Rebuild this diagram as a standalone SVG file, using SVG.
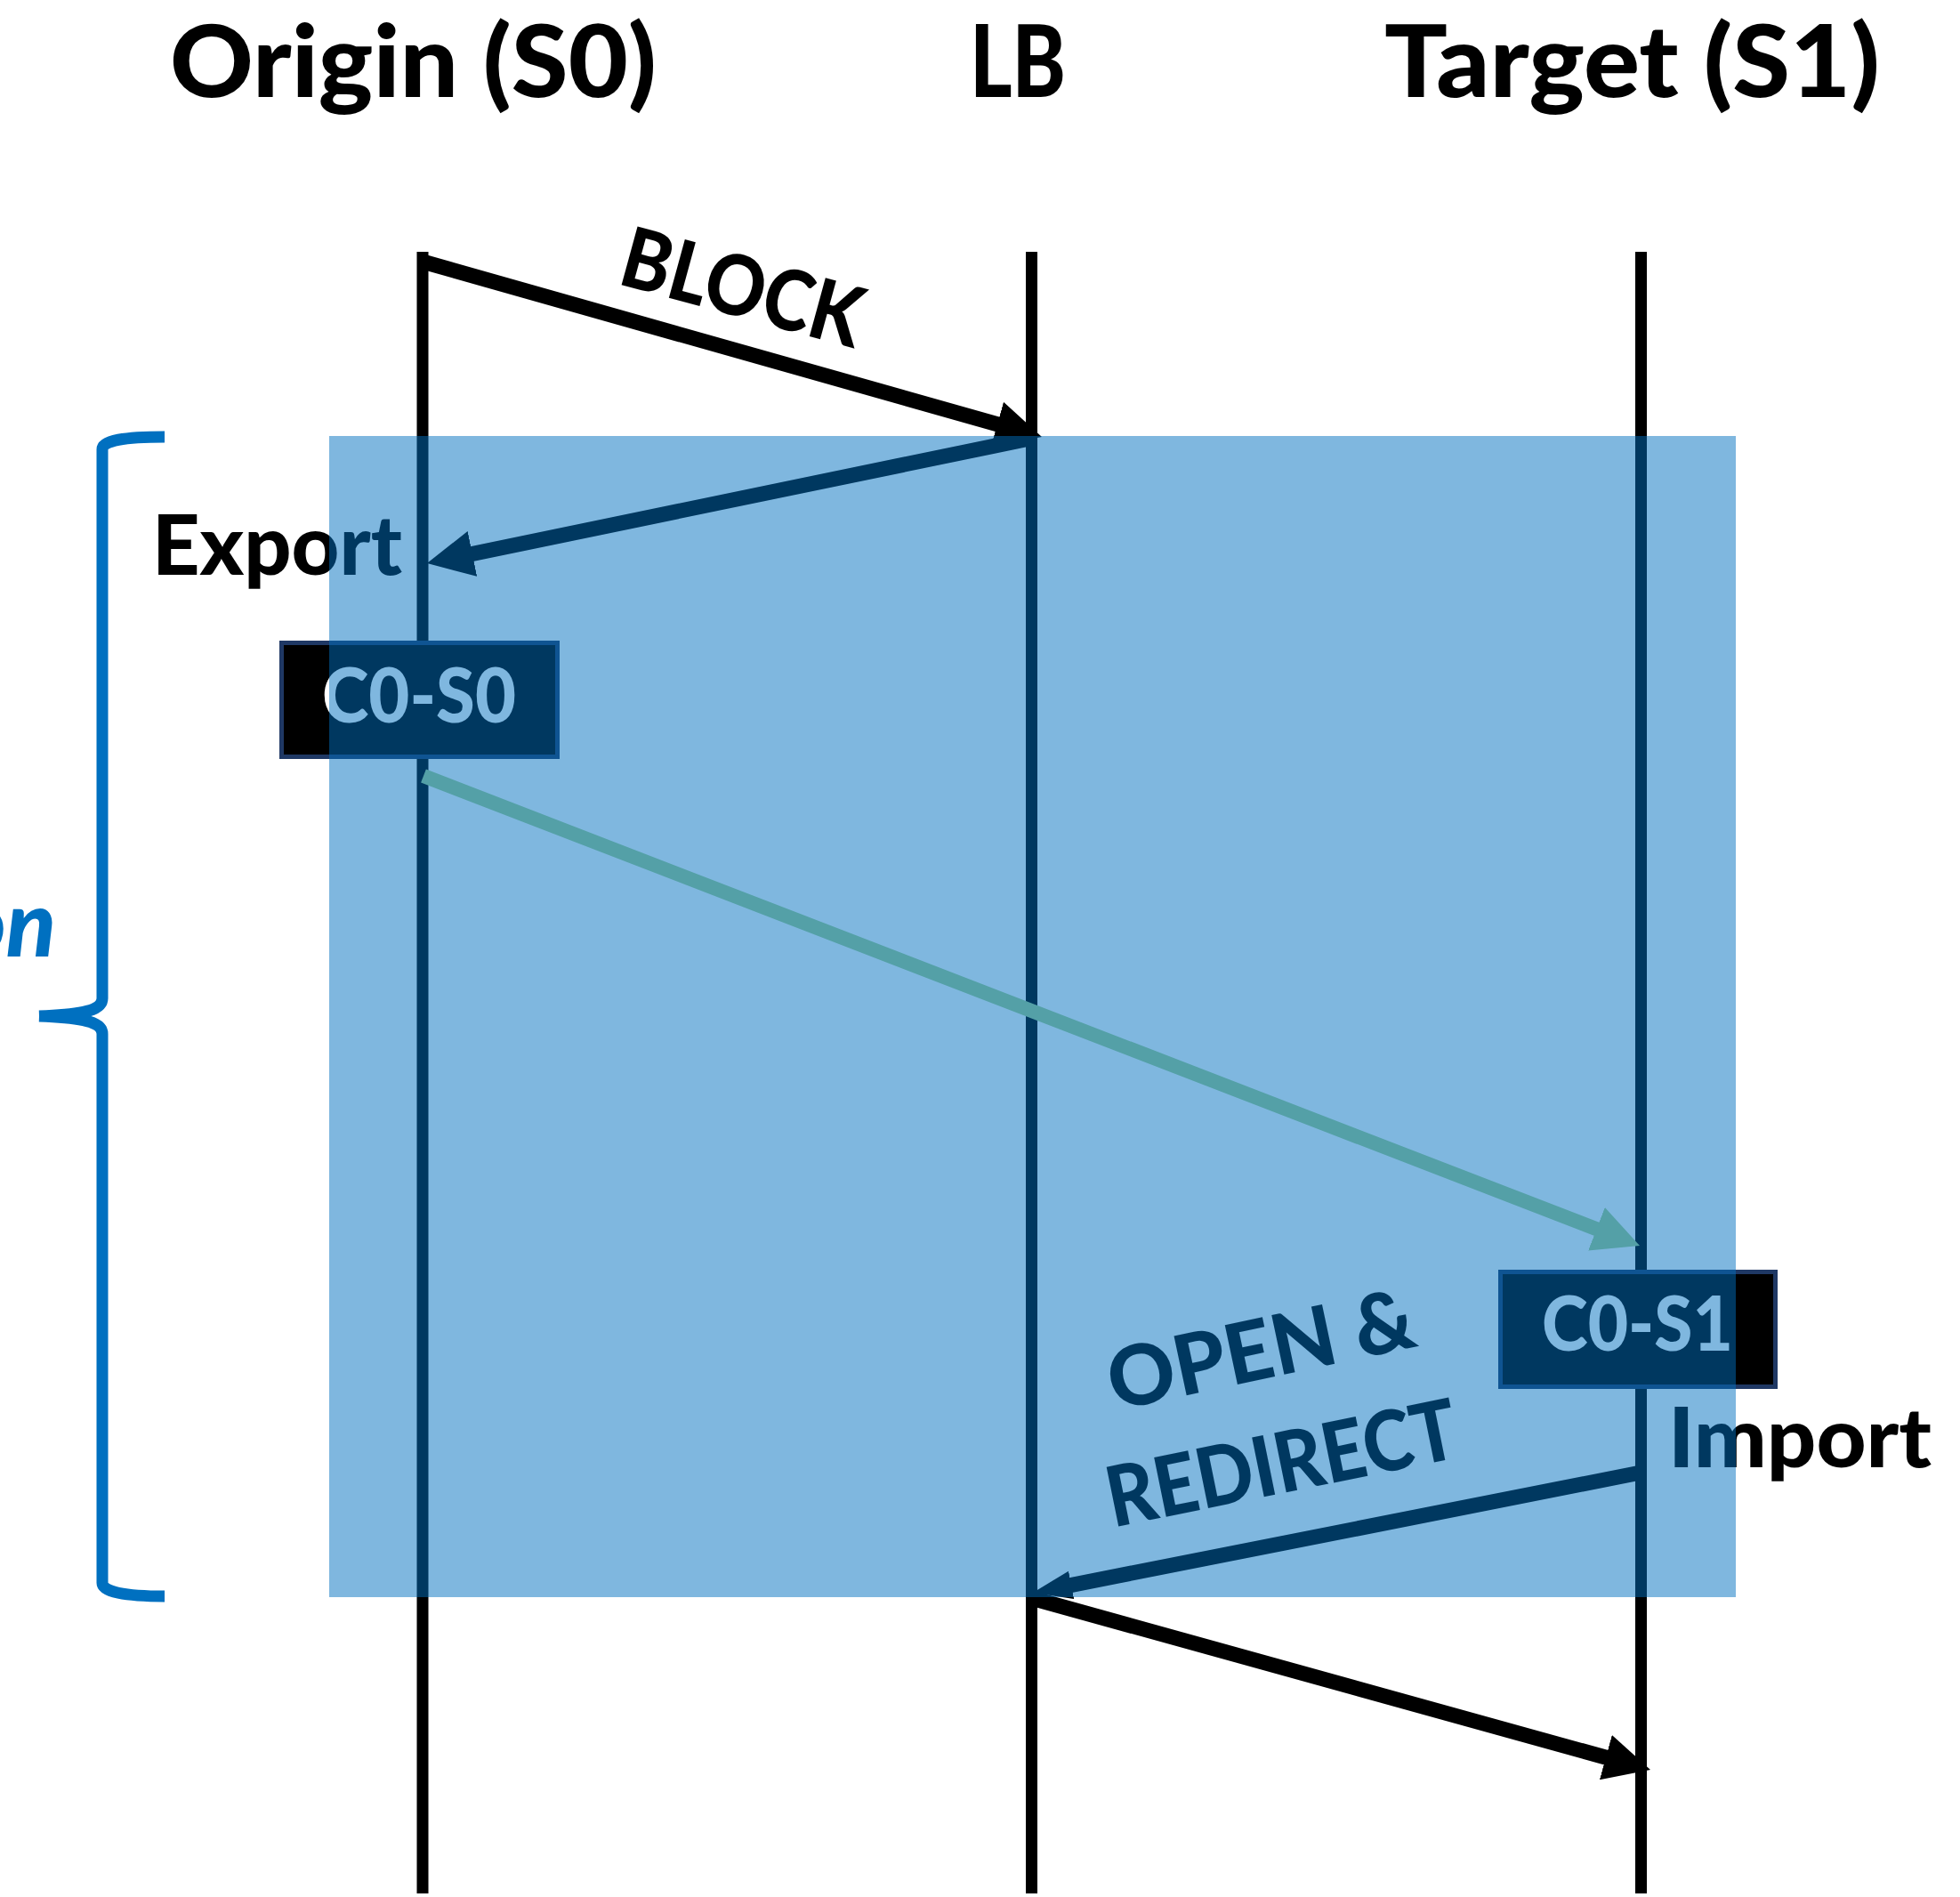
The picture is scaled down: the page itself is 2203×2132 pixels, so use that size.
<svg xmlns="http://www.w3.org/2000/svg" width="2203" height="2132" viewBox="0 0 2203 2132">
  <defs>
    <style>
      .lifeline { stroke: #000; stroke-width: 13; fill: none; }
      .msg { stroke: #000; stroke-width: 17; fill: none; }
      .msg-teal { stroke: #A9D18E; stroke-width: 16; fill: none; }
      .t { font-family: Lato, "Open Sans", "Liberation Sans", sans-serif; font-weight: 900; }
      .head { font-size: 112px; fill: #000; }
      .lbl { font-size: 94px; fill: #000; }
      .cell { fill: #000; stroke: #1F3864; stroke-width: 5; }
      .cell-t { font-size: 86px; fill: #fff; }
      .brace { stroke: #0070C0; stroke-width: 13; fill: none; }
      .phase { fill: rgba(0, 112, 192, 0.5); }
    </style>
    <marker id="ah" markerUnits="userSpaceOnUse" viewBox="0 0 52 52" markerWidth="52" markerHeight="52" refX="22" refY="26" orient="auto">
      <path d="M0,0 L52,26 L0,52 z" fill="#000"/>
    </marker>
    <marker id="ah-sm" markerUnits="userSpaceOnUse" viewBox="0 0 44 32" markerWidth="44" markerHeight="32" refX="20" refY="16" orient="auto">
      <path d="M0,0 L44,16 L0,32 z" fill="#000"/>
    </marker>
    <marker id="ah-teal" markerUnits="userSpaceOnUse" viewBox="0 0 52 52" markerWidth="52" markerHeight="52" refX="22" refY="26" orient="auto">
      <path d="M0,0 L52,26 L0,52 z" fill="#A9D18E"/>
    </marker>
  </defs>

  <rect width="2203" height="2132" fill="#fff"/>

  <!-- participant headers -->
  <g id="origin">
    <text class="t head" x="191" y="109" textLength="547" lengthAdjust="spacingAndGlyphs">Origin (S0)</text>
  </g>
  <g id="lb">
    <text class="t head" x="1090" y="109" textLength="108" lengthAdjust="spacingAndGlyphs">LB</text>
  </g>
  <g id="target">
    <text class="t head" x="1556" y="109" textLength="557" lengthAdjust="spacingAndGlyphs">Target (S1)</text>
  </g>

  <!-- lifelines -->
  <g id="lifelines">
    <line class="lifeline" x1="475" y1="283" x2="475" y2="2128"/>
    <line class="lifeline" x1="1159.5" y1="283" x2="1159.5" y2="2128"/>
    <line class="lifeline" x1="1844.5" y1="283" x2="1844.5" y2="2128"/>
  </g>

  <!-- messages -->
  <g id="connectors">
    <line class="msg" x1="475" y1="294" x2="1142.1" y2="482.8" marker-end="url(#ah)"/>
    <line class="msg" x1="1162" y1="492" x2="509.4" y2="626.9" marker-end="url(#ah)"/>
    <line class="msg-teal" x1="476" y1="872" x2="1815" y2="1389.2" marker-end="url(#ah-teal)"/>
    <line class="msg" x1="1844" y1="1655" x2="1184.5" y2="1785.3" marker-end="url(#ah-sm)"/>
    <line class="msg" x1="1159" y1="1796" x2="1826.1" y2="1981" marker-end="url(#ah)"/>
  </g>

  <!-- message labels -->
  <g id="label-block">
    <text class="t lbl" x="826" y="355" text-anchor="middle" textLength="277" lengthAdjust="spacingAndGlyphs" transform="rotate(15.3 826 355)">BLOCK</text>
  </g>
  <g id="label-open">
    <text class="t lbl" x="1424" y="1549" text-anchor="middle" textLength="350" lengthAdjust="spacingAndGlyphs" transform="rotate(-12 1424 1549)">OPEN &amp;</text>
    <text class="t lbl" x="1447" y="1677" text-anchor="middle" textLength="400" lengthAdjust="spacingAndGlyphs" transform="rotate(-11.5 1447 1677)">REDIRECT</text>
  </g>

  <!-- connection state on each server -->
  <g id="c0-s0">
    <rect class="cell" x="316.5" y="722.5" width="310" height="128"/>
    <text class="t cell-t" x="362" y="812" textLength="218" lengthAdjust="spacingAndGlyphs">C0-S0</text>
  </g>
  <g id="c0-s1">
    <rect class="cell" x="1686.5" y="1429.5" width="309" height="129"/>
    <text class="t cell-t" x="1733" y="1518" textLength="215" lengthAdjust="spacingAndGlyphs">C0-S1</text>
  </g>
  <g id="export">
    <text class="t lbl" x="171" y="646" textLength="281" lengthAdjust="spacingAndGlyphs">Export</text>
  </g>
  <g id="import">
    <text class="t lbl" x="1875" y="1649" textLength="296" lengthAdjust="spacingAndGlyphs">Import</text>
  </g>

  <!-- highlighted phase -->
  <rect id="phase" class="phase" x="370" y="490" width="1581" height="1305"/>

  <!-- phase brace and caption -->
  <g id="brace">
    <path class="brace" d="M185,491 C140,491 115,495 115,505 L115,1122 C115,1134 100,1140 44,1142 M44,1142 C100,1144 115,1150 115,1162 L115,1779 C115,1789 140,1794 185,1794"/>
    <text class="t" x="63" y="1075" text-anchor="end" font-size="103" font-style="italic" fill="#0070C0">on</text>
  </g>
</svg>
